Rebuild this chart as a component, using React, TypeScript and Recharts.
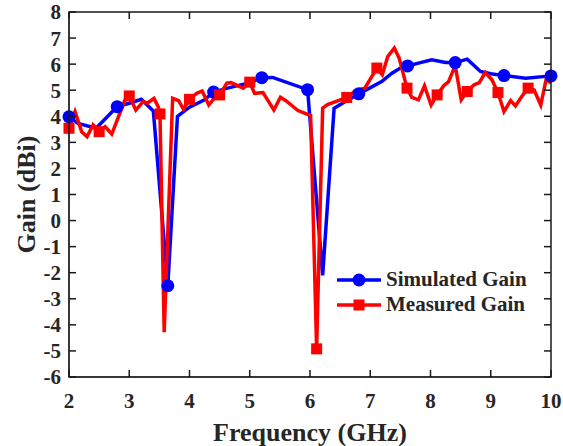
import React from "react";
import { LineChart, Line, XAxis, YAxis, Legend, Label } from "recharts";

// Simulated gain (blue)
const simFreq = [2.0, 2.15, 2.45, 2.8, 3.0, 3.2, 3.4, 3.64, 3.8, 4.0, 4.25, 4.4, 4.63, 4.97, 5.2, 5.38, 5.96, 6.21, 6.4, 6.58, 6.81, 7.19, 7.36, 7.5, 7.62, 7.8, 8.02, 8.25, 8.41, 8.61, 8.83, 9.0, 9.22, 9.58, 10.0];
const simGain = [3.98, 3.73, 3.54, 4.37, 4.5, 4.65, 4.2, -2.5, 4.0, 4.35, 4.63, 4.93, 5.08, 5.27, 5.48, 5.49, 5.02, -2.1, 4.31, 4.56, 4.86, 5.33, 5.65, 5.85, 5.93, 6.04, 6.17, 6.06, 6.06, 6.19, 5.72, 5.63, 5.56, 5.46, 5.55];
const simMarkers = [2.0, 2.8, 3.64, 4.4, 5.2, 5.96, 6.81, 7.62, 8.41, 9.22, 10.0];

// Measured gain (red)
const measFreq = [2.0, 2.1, 2.21, 2.3, 2.4, 2.5, 2.6, 2.71, 2.93, 3.0, 3.11, 3.23, 3.3, 3.41, 3.48, 3.51, 3.58, 3.72, 3.82, 3.9, 4.0, 4.12, 4.21, 4.32, 4.43, 4.5, 4.62, 4.69, 4.89, 5.0, 5.08, 5.22, 5.4, 5.51, 5.6, 5.8, 6.01, 6.11, 6.21, 6.29, 6.47, 6.61, 6.75, 6.91, 7.11, 7.2, 7.29, 7.4, 7.48, 7.61, 7.69, 7.8, 7.9, 8.01, 8.11, 8.22, 8.3, 8.41, 8.51, 8.61, 8.72, 8.81, 8.91, 9.02, 9.12, 9.22, 9.33, 9.41, 9.52, 9.62, 9.72, 9.83, 9.92, 10.0];
const measGain = [3.54, 4.18, 3.41, 3.22, 3.67, 3.41, 3.6, 3.32, 4.63, 4.78, 4.24, 4.56, 4.5, 4.69, 4.37, 4.09, -4.28, 4.69, 4.6, 4.27, 4.65, 4.88, 4.97, 4.43, 4.75, 4.82, 5.27, 5.29, 5.08, 5.31, 4.88, 4.91, 4.24, 4.73, 4.6, 4.22, 4.03, -4.92, 4.31, 4.45, 4.6, 4.72, 4.98, 5.08, 5.85, 5.59, 6.29, 6.62, 6.23, 5.08, 4.73, 4.63, 5.17, 4.43, 4.82, 5.17, 5.33, 5.95, 4.63, 4.95, 5.2, 5.29, 5.68, 5.4, 4.91, 4.18, 4.6, 4.4, 4.78, 5.08, 5.01, 4.43, 5.42, 5.27];
const measMarkers = [2.0, 2.5, 3.0, 3.51, 4.0, 4.5, 5.0, 5.5, 6.11, 6.61, 7.11, 7.61, 8.11, 8.61, 9.12, 9.62];

const xTicks = [2, 3, 4, 5, 6, 7, 8, 9, 10];
const yTicks = [-6, -5, -4, -3, -2, -1, 0, 1, 2, 3, 4, 5, 6, 7, 8];
const X_DOMAIN = [2, 10];
const Y_DOMAIN = [-6, 8];

const simData = simFreq.map((f, i) => ({ f, gain: simGain[i] }));
const measData = measFreq.map((f, i) => ({ f, gain: measGain[i] }));

const BLUE = "#0000ff";
const RED = "#ff0000";
const INK = "#262626";
const FRAME = "#1a1a1a";
const FONT = "'Liberation Serif', 'Times New Roman', serif";
const TICK_LEN = 7;

// chart box
const W = 563;
const H = 446;
const M = { top: 12, right: 12 };
const Y_AXIS_W = 69;
const X_AXIS_H = 69;
const PLOT = { left: Y_AXIS_W, top: M.top, width: W - Y_AXIS_W - M.right, height: H - M.top - X_AXIS_H };

const labelStyle = { fontFamily: FONT, fontSize: 21, fontWeight: 700 };

const XTick = (props: any) => {
    const { x, y, payload } = props;
    return (
        <text x={x} y={y} dy="0.71em" textAnchor="middle" fill={INK} style={labelStyle}>
            {payload.value}
        </text>
    );
};

const YTick = (props: any) => {
    const { x, y, payload } = props;
    return (
        <text x={x} y={y} dy="0.355em" textAnchor="end" fill={INK} style={labelStyle}>
            {payload.value}
        </text>
    );
};

// box frame with inward tick marks, laid over the plot area (MATLAB "box on" look)
function AxisBox() {
    const sx = (v: number) => PLOT.left + ((v - X_DOMAIN[0]) / (X_DOMAIN[1] - X_DOMAIN[0])) * PLOT.width;
    const sy = (v: number) => PLOT.top + ((Y_DOMAIN[1] - v) / (Y_DOMAIN[1] - Y_DOMAIN[0])) * PLOT.height;
    const bottom = PLOT.top + PLOT.height;
    const right = PLOT.left + PLOT.width;
    return (
        <svg width={W} height={H} style={{ position: "absolute", left: 0, top: 0, pointerEvents: "none", zIndex: 5 }}>
            <rect x={PLOT.left} y={PLOT.top} width={PLOT.width} height={PLOT.height} fill="none" stroke={FRAME} strokeWidth={1.5} />
            {xTicks.map((t) => (
                <g key={`x${t}`}>
                    <line x1={sx(t)} x2={sx(t)} y1={bottom} y2={bottom - TICK_LEN} stroke={FRAME} strokeWidth={1.5} />
                    <line x1={sx(t)} x2={sx(t)} y1={PLOT.top} y2={PLOT.top + TICK_LEN} stroke={FRAME} strokeWidth={1.5} />
                </g>
            ))}
            {yTicks.map((t) => (
                <g key={`y${t}`}>
                    <line x1={PLOT.left} x2={PLOT.left + TICK_LEN} y1={sy(t)} y2={sy(t)} stroke={FRAME} strokeWidth={1.5} />
                    <line x1={right} x2={right - TICK_LEN} y1={sy(t)} y2={sy(t)} stroke={FRAME} strokeWidth={1.5} />
                </g>
            ))}
        </svg>
    );
}

const circleDot = (props: any) => {
    const { cx, cy, payload, index } = props;
    if (!simMarkers.includes(payload.f)) return <g key={`s-${index}`} />;
    return <circle key={`s-${index}`} cx={cx} cy={cy} r={6.5} fill={BLUE} stroke="none" />;
};

const squareDot = (props: any) => {
    const { cx, cy, payload, index } = props;
    if (!measMarkers.includes(payload.f)) return <g key={`m-${index}`} />;
    return <rect key={`m-${index}`} x={cx - 5.5} y={cy - 5.5} width={11} height={11} fill={RED} stroke="none" />;
};

const legendItems = [
    { name: "Simulated Gain", color: BLUE, shape: "circle" },
    { name: "Measured Gain", color: RED, shape: "square" },
];

function GainLegend() {
    return (
        <div style={{ fontFamily: FONT, fontWeight: 700, fontSize: 21, color: INK }}>
            {legendItems.map((item) => (
                <div key={item.name} style={{ display: "flex", alignItems: "center", height: 25 }}>
                    <svg width={44} height={20} style={{ marginRight: 5 }}>
                        <line x1={0} y1={10} x2={44} y2={10} stroke={item.color} strokeWidth={3.5} />
                        {item.shape === "circle"
                            ? <circle cx={22} cy={10} r={6.5} fill={item.color} />
                            : <rect x={16.5} y={4.5} width={11} height={11} fill={item.color} />}
                    </svg>
                    <span>{item.name}</span>
                </div>
            ))}
        </div>
    );
}

export default function App() {
    return (
        <div style={{ position: "absolute", left: 0, top: 0, width: W, height: H, background: "#fff", fontFamily: FONT }}>
            <LineChart width={W} height={H} margin={{ top: M.top, right: M.right, left: 0, bottom: 0 }}>
                <XAxis
                    type="number"
                    dataKey="f"
                    domain={X_DOMAIN}
                    ticks={xTicks}
                    interval={0}
                    height={X_AXIS_H}
                    stroke={INK}
                    tickLine={false}
                    tickSize={0}
                    tickMargin={16}
                    tick={XTick}
                >
                    <Label value="Frequency (GHz)" position="insideBottom" offset={5}
                        style={{ fill: INK, fontSize: 26, fontWeight: 700, fontFamily: FONT }} />
                </XAxis>
                <YAxis
                    type="number"
                    domain={Y_DOMAIN}
                    ticks={yTicks}
                    interval={0}
                    width={Y_AXIS_W}
                    stroke={INK}
                    tickLine={false}
                    tickSize={0}
                    tickMargin={8}
                    tick={YTick}
                >
                    <Label value="Gain (dBi)" angle={-90} position="insideLeft" offset={26}
                        style={{ fill: INK, fontSize: 26, fontWeight: 700, fontFamily: FONT, textAnchor: "middle" }} />
                </YAxis>
                <Line
                    data={simData}
                    dataKey="gain"
                    name="Simulated Gain"
                    type="linear"
                    stroke={BLUE}
                    strokeWidth={3.5}
                    dot={circleDot}
                    activeDot={false}
                    isAnimationActive={false}
                />
                <Line
                    data={measData}
                    dataKey="gain"
                    name="Measured Gain"
                    type="linear"
                    stroke={RED}
                    strokeWidth={3.5}
                    dot={squareDot}
                    activeDot={false}
                    isAnimationActive={false}
                />
                <Legend
                    layout="vertical"
                    align="center"
                    verticalAlign="middle"
                    content={() => <GainLegend />}
                    wrapperStyle={{ left: 337, top: 267, width: 210 }}
                />
            </LineChart>
            <AxisBox />
        </div>
    );
}
